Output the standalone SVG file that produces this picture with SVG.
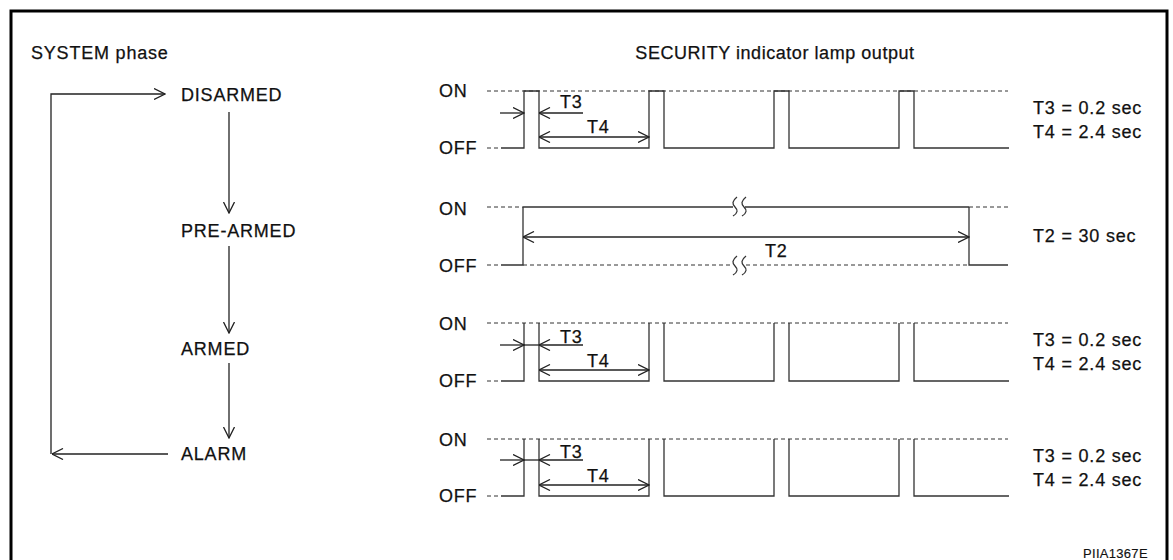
<svg xmlns="http://www.w3.org/2000/svg" width="1173" height="560" viewBox="0 0 1173 560">
<style>
text{font-family:"Liberation Sans",Arial,sans-serif;font-size:18px;fill:#111;stroke:#111;stroke-width:0.25;letter-spacing:0.8px}
.ttl{letter-spacing:0.55px}
.sm{font-size:13px;letter-spacing:0.3px;stroke-width:0.15}
.ln{fill:none;stroke:#222;stroke-width:1.3}
.dl{fill:none;stroke:#333;stroke-width:1;stroke-dasharray:4 3}
.wv{fill:none;stroke:#333;stroke-width:1.3}
.a{marker-end:url(#ah)}
.b{marker-start:url(#ah);marker-end:url(#ah)}
</style>
<defs>
<marker id="ah" viewBox="0 0 12 12" refX="11.5" refY="6" markerWidth="12" markerHeight="12" markerUnits="userSpaceOnUse" orient="auto-start-reverse">
<path d="M0.5,0.5 L11.5,6 L0.5,11.5" fill="none" stroke="#222" stroke-width="1.3"/>
</marker>
</defs>
<rect width="1173" height="560" fill="#fff"/>
<path d="M11,565 V11 H1167 V565" fill="none" stroke="#000" stroke-width="3"/>
<text x="31" y="59">SYSTEM phase</text>
<text class="ttl" x="775" y="59" text-anchor="middle">SECURITY indicator lamp output</text>

<g id="node-disarmed"><text x="181" y="101">DISARMED</text></g>
<g id="node-prearmed"><text x="181" y="237">PRE-ARMED</text></g>
<g id="node-armed"><text x="181" y="355">ARMED</text></g>
<g id="node-alarm"><text x="181" y="460">ALARM</text></g>

<g id="connectors">
<path class="ln a" d="M229,112 V213"/>
<path class="ln a" d="M229,246 V333"/>
<path class="ln a" d="M229,363 V438"/>
<path class="ln a" d="M168,454 H52"/>
<path class="ln a" d="M51,454 V94 H165"/>
</g>

<g id="chart-disarmed">
<text x="439" y="97">ON</text>
<text x="439" y="154">OFF</text>
<path class="dl" d="M487,91 H1008"/>
<path class="dl" d="M487,148 H501"/>
<path class="wv" d="M501,148 H524 V91 H539 V148 H649 V91 H664 V148 H774 V91 H789 V148 H899 V91 H914 V148 H1009"/>
<path class="ln a" d="M500,113 H524"/>
<path class="ln a" d="M583,113 H539"/>
<path class="ln b" d="M539,137 H649"/>
<text x="560" y="108">T3</text>
<text x="587" y="133">T4</text>
<text x="1033" y="114">T3 = 0.2 sec</text>
<text x="1033" y="138">T4 = 2.4 sec</text>
</g>

<g id="chart-prearmed">
<text x="439" y="215">ON</text>
<text x="439" y="272">OFF</text>
<path class="dl" d="M487,207 H523"/>
<path class="wv" d="M523,207 H733 M745,207 H969"/>
<path class="dl" d="M969,207 H1008"/>
<path class="dl" d="M487,265 H501"/>
<path class="wv" d="M501,265 H523 V207 M969,207 V265 H1008"/>
<path class="dl" d="M523,265 H733 M746,265 H969"/>
<path class="wv" d="M737,197 C732,201 732,204 735,207 C738,210 738,213 733,216"/>
<path class="wv" d="M746,197 C741,201 741,204 744,207 C747,210 747,213 742,216"/>
<path class="wv" d="M737,256 C732,260 732,263 735,266 C738,269 738,272 733,275"/>
<path class="wv" d="M746,256 C741,260 741,263 744,266 C747,269 747,272 742,275"/>
<path class="ln b" d="M523,237 H969"/>
<text x="765" y="257">T2</text>
<text x="1033" y="242">T2 = 30 sec</text>
</g>

<g id="chart-armed">
<text x="439" y="330">ON</text>
<text x="439" y="387">OFF</text>
<path class="dl" d="M487,323 H1008"/>
<path class="dl" d="M487,381 H501"/>
<path class="wv" d="M501,381 H524 V323 M539,323 V381 H649 V323 M664,323 V381 H774 V323 M789,323 V381 H899 V323 M914,323 V381 H1009"/>
<path class="ln a" d="M500,345 H524"/>
<path class="ln" d="M524,345 H539"/>
<path class="ln a" d="M583,345 H539"/>
<path class="ln b" d="M539,370 H649"/>
<text x="560" y="343">T3</text>
<text x="587" y="367">T4</text>
<text x="1033" y="346">T3 = 0.2 sec</text>
<text x="1033" y="370">T4 = 2.4 sec</text>
</g>

<g id="chart-alarm">
<text x="439" y="446">ON</text>
<text x="439" y="502">OFF</text>
<path class="dl" d="M487,439 H1008"/>
<path class="dl" d="M487,496 H501"/>
<path class="wv" d="M501,496 H524 V439 M539,439 V496 H649 V439 M664,439 V496 H774 V439 M789,439 V496 H899 V439 M914,439 V496 H1009"/>
<path class="ln a" d="M500,460 H524"/>
<path class="ln" d="M524,460 H539"/>
<path class="ln a" d="M583,460 H539"/>
<path class="ln b" d="M539,485 H649"/>
<text x="560" y="458">T3</text>
<text x="587" y="482">T4</text>
<text x="1033" y="462">T3 = 0.2 sec</text>
<text x="1033" y="486">T4 = 2.4 sec</text>
</g>

<text class="sm" x="1083" y="558">PIIA1367E</text>
</svg>
